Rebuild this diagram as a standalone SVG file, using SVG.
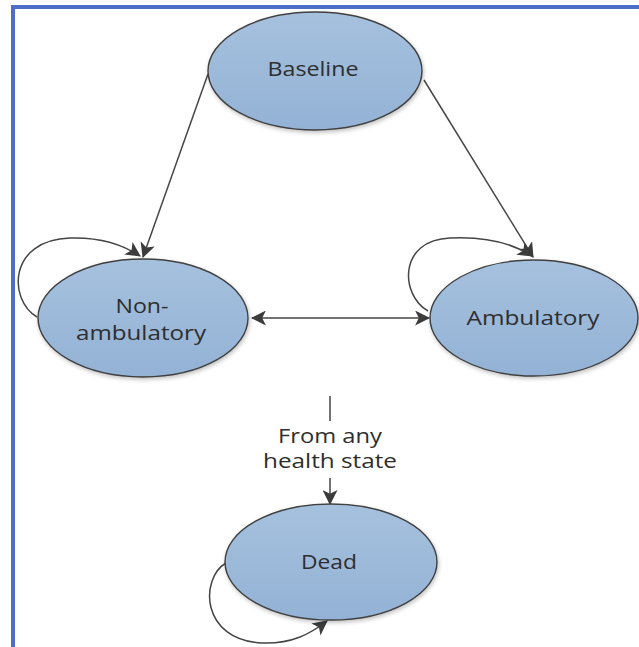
<svg xmlns="http://www.w3.org/2000/svg" width="639" height="647" viewBox="0 0 639 647">
<defs>
<linearGradient id="fill" x1="0" y1="0" x2="0" y2="1">
<stop offset="0" stop-color="#a6c1de"/>
<stop offset="1" stop-color="#93b2d5"/>
</linearGradient>
<marker id="arr" viewBox="0 0 14 14" refX="13" refY="7" markerWidth="15" markerHeight="15" markerUnits="userSpaceOnUse" orient="auto-start-reverse">
<path d="M0,0 L14,7 L0,14 L3.5,7 z" fill="#3c3c3c"/>
</marker>
<filter id="sh" x="-10%" y="-10%" width="120%" height="130%">
<feGaussianBlur in="SourceAlpha" stdDeviation="2"/>
<feOffset dx="1" dy="2" result="b"/>
<feComponentTransfer><feFuncA type="linear" slope="0.25"/></feComponentTransfer>
<feMerge><feMergeNode/><feMergeNode in="SourceGraphic"/></feMerge>
</filter>
</defs>
<style>
.node ellipse{fill:url(#fill);stroke:#3f3f3f;stroke-width:1.4;filter:url(#sh)}
.lbl{font-family:"Open Sans","DejaVu Sans",sans-serif;font-size:20px;fill:#2e2e2e;text-anchor:middle}
.edge{fill:none;stroke:#454545;stroke-width:1.5}
</style>
<rect x="13" y="7" width="640" height="660" fill="#fff" stroke="#4d6fc8" stroke-width="4"/>
<g id="connectors">
<line class="edge" x1="208" y1="74" x2="143" y2="257" marker-end="url(#arr)"/>
<line class="edge" x1="424" y1="80" x2="533" y2="257" marker-end="url(#arr)"/>
<line class="edge" x1="252" y1="318" x2="429" y2="318" marker-start="url(#arr)" marker-end="url(#arr)"/>
<path class="edge" d="M37,317 C8,300 8,240 70,238 C100,237 122,244 140,256" marker-end="url(#arr)"/>
<path class="edge" d="M428,311 C400,295 398,240 450,238 C490,236 515,245 532,256" marker-end="url(#arr)"/>
<path class="edge" d="M226,563 C200,578 200,640 262,643 C292,644 310,634 327,621" marker-end="url(#arr)"/>
<line class="edge" x1="330" y1="396" x2="330" y2="421"/>
<line class="edge" x1="330" y1="478" x2="330" y2="504" marker-end="url(#arr)"/>
<text class="lbl" x="330" y="443" textLength="104" lengthAdjust="spacingAndGlyphs" font-size="19">From any</text>
<text class="lbl" x="330" y="468" textLength="134" lengthAdjust="spacingAndGlyphs" font-size="19">health state</text>
</g>
<g id="baseline" class="node">
<ellipse cx="315" cy="71" rx="107" ry="59"/>
<text class="lbl" x="313" y="76" textLength="91" lengthAdjust="spacingAndGlyphs">Baseline</text>
</g>
<g id="nonambulatory" class="node">
<ellipse cx="143" cy="318" rx="105" ry="59"/>
<text class="lbl" x="142" y="313" textLength="53" lengthAdjust="spacingAndGlyphs">Non-</text>
<text class="lbl" x="141" y="340" textLength="130" lengthAdjust="spacingAndGlyphs">ambulatory</text>
</g>
<g id="ambulatory" class="node">
<ellipse cx="534" cy="318" rx="104" ry="58"/>
<text class="lbl" x="533" y="325" textLength="133" lengthAdjust="spacingAndGlyphs">Ambulatory</text>
</g>
<g id="dead" class="node">
<ellipse cx="331" cy="562" rx="106" ry="58"/>
<text class="lbl" x="329" y="569" textLength="56" lengthAdjust="spacingAndGlyphs">Dead</text>
</g>
</svg>
